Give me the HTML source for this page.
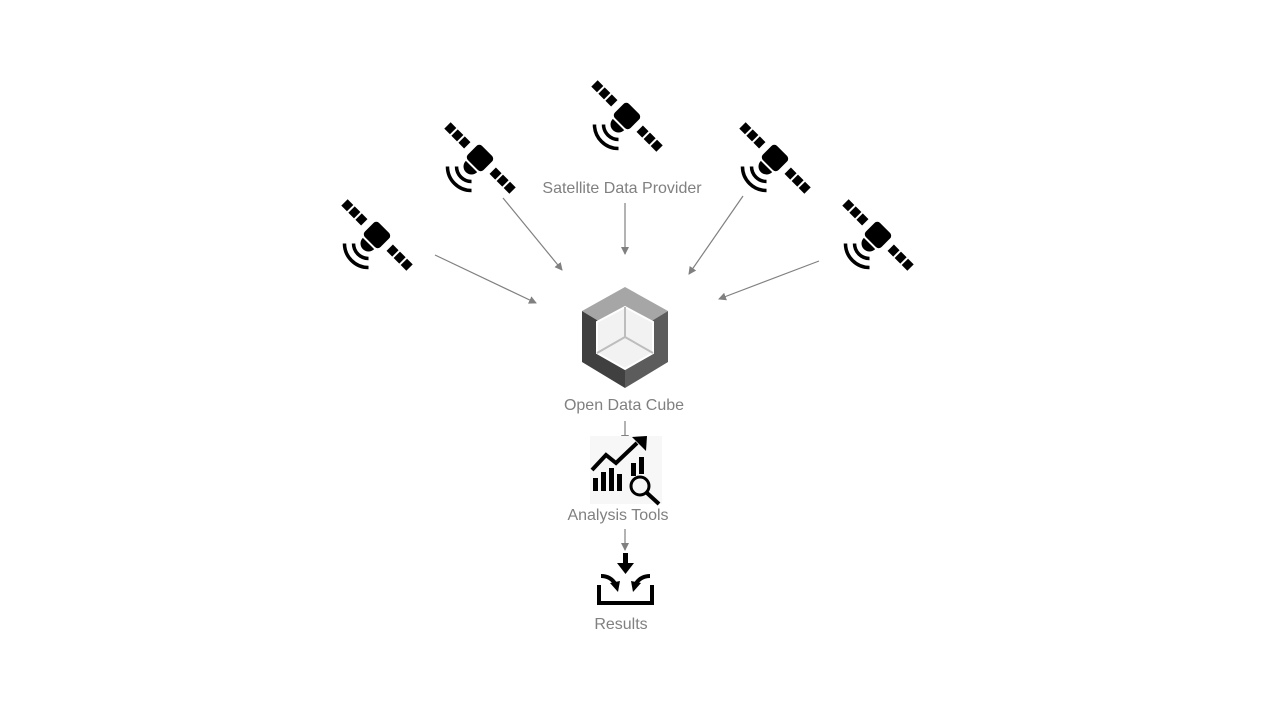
<!DOCTYPE html>
<html><head><meta charset="utf-8"><style>
html,body{margin:0;padding:0;background:#fff}
svg{display:block}
text{font-family:"Liberation Sans",sans-serif;font-size:16px;fill:#808080;text-anchor:middle}
</style></head><body>
<svg width="1280" height="720" viewBox="0 0 1280 720" xmlns="http://www.w3.org/2000/svg">
<defs>
<g id="sat">
 <g transform="rotate(45)">
  <rect x="-11" y="-10" width="22" height="20" rx="4" fill="#000"/>
  <rect x="-46" y="-4.5" width="8" height="9" fill="#000"/>
  <rect x="-36" y="-4.5" width="8" height="9" fill="#000"/>
  <rect x="-26" y="-4.5" width="8" height="9" fill="#000"/>
  <rect x="18" y="-4.5" width="8" height="9" fill="#000"/>
  <rect x="28" y="-4.5" width="8" height="9" fill="#000"/>
  <rect x="38" y="-4.5" width="8" height="9" fill="#000"/>
  <path d="M-8 12 A8 8 0 0 0 8 12 Z" fill="#000"/>
  <path d="M-10.6 22.6 A15 15 0 0 0 10.6 22.6" fill="none" stroke="#000" stroke-width="3.5"/>
  <path d="M-17 29 A24 24 0 0 0 17 29" fill="none" stroke="#000" stroke-width="3.5"/>
 </g>
</g>
<marker id="ar" markerWidth="8" markerHeight="8" refX="7" refY="4" orient="auto" markerUnits="userSpaceOnUse">
 <path d="M0 0 L8 4 L0 8 Z" fill="#808080"/>
</marker>
</defs>
<use href="#sat" transform="translate(627,116)"/>
<use href="#sat" transform="translate(480,158)"/>
<use href="#sat" transform="translate(377,235)"/>
<use href="#sat" transform="translate(775,158)"/>
<use href="#sat" transform="translate(878,235)"/>
<g stroke="#808080" stroke-width="1.2" marker-end="url(#ar)">
 <line x1="435" y1="255" x2="536" y2="303"/>
 <line x1="503" y1="198" x2="562" y2="270"/>
 <line x1="625" y1="203" x2="625" y2="254"/>
 <line x1="743" y1="196" x2="689" y2="274"/>
 <line x1="819" y1="261" x2="719" y2="299"/>
 <line x1="625" y1="421" x2="625" y2="442"/>
 <line x1="625" y1="529" x2="625" y2="550"/>
</g>
<text x="622" y="193">Satellite Data Provider</text>
<polygon points="625,287 668,311 625,337 582,311" fill="#a6a6a6"/>
<polygon points="582,311 625,337 625,388 582,362" fill="#404040"/>
<polygon points="668,311 625,337 625,388 668,362" fill="#5c5c5c"/>
<polygon points="625,307 653,322 653,353 625,369 597,353 597,322" fill="#f2f2f2" stroke="#fff" stroke-width="2"/>
<g stroke="#bdbdbd" stroke-width="2"><line x1="625" y1="337" x2="625" y2="307"/><line x1="625" y1="337" x2="597" y2="353"/><line x1="625" y1="337" x2="653" y2="353"/></g>
<text x="624" y="410">Open Data Cube</text>
<rect x="590" y="436" width="72" height="68" fill="#f7f7f7"/>
<g fill="#000">
 <path d="M592 470 L606 455 L616 463 L637 443" fill="none" stroke="#000" stroke-width="4"/>
 <polygon points="632,437 647,436 646,451"/>
 <rect x="593" y="478" width="5" height="13"/><rect x="601" y="472" width="5" height="19"/>
 <rect x="609" y="468" width="5" height="23"/><rect x="617" y="474" width="5" height="17"/>
 <rect x="631" y="463" width="5" height="13"/><rect x="639" y="457" width="5" height="17"/>
</g>
<circle cx="640" cy="486" r="9" fill="#f7f7f7" stroke="#000" stroke-width="3"/>
<line x1="647" y1="493" x2="659" y2="504" stroke="#000" stroke-width="4"/>
<text x="618" y="520">Analysis Tools</text>
<g fill="#000">
 <rect x="623" y="553" width="5" height="11"/><polygon points="617,563 634,563 625.5,574"/>
 <path d="M599 585 V603 H652 V585" fill="none" stroke="#000" stroke-width="4"/>
 <path d="M601 576 Q611 576 616 585" fill="none" stroke="#000" stroke-width="4"/><polygon points="610,583 620,581 618,592"/>
 <path d="M650 576 Q640 576 635 585" fill="none" stroke="#000" stroke-width="4"/><polygon points="641,583 631,581 633,592"/>
</g>
<text x="621" y="629">Results</text>
</svg>
</body></html>
